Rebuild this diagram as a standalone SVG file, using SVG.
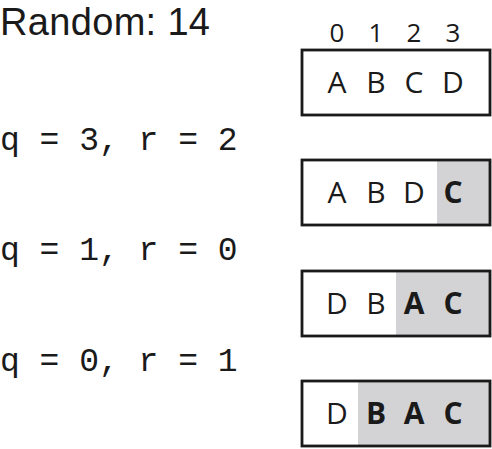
<svg xmlns="http://www.w3.org/2000/svg" width="492" height="449" viewBox="0 0 492 449">
<style>
.lbl{font-family:"Liberation Sans","DejaVu Sans",sans-serif;font-size:38px;fill:#1a1a1a}
.code{font-family:"Liberation Mono","DejaVu Sans Mono",monospace;font-size:33px;fill:#1a1a1a}
.idx{font-family:"Open Sans","Noto Sans",sans-serif;font-size:26px;fill:#1a1a1a;text-anchor:middle}
.cell{font-family:"Open Sans","Noto Sans",sans-serif;font-size:30px;fill:#1a1a1a;text-anchor:middle}
.b{font-weight:bold}
.box{fill:none;stroke:#1a1a1a;stroke-width:2.8}
.hl{fill:#d3d3d5}
</style>
<rect width="492" height="449" fill="#fff"/>
<text class="lbl" x="0" y="35" textLength="210" lengthAdjust="spacing">Random: 14</text>
<text class="code" x="0" y="150">q = 3, r = 2</text>
<text class="code" x="0" y="260">q = 1, r = 0</text>
<text class="code" x="0" y="371">q = 0, r = 1</text>
<g id="indices">
<text class="idx" x="337" y="42">0</text>
<text class="idx" x="376" y="42">1</text>
<text class="idx" x="414" y="42">2</text>
<text class="idx" x="453" y="42">3</text>
</g>
<g id="array0">
<rect class="box" x="302" y="50" width="188" height="65"/>
<text class="cell" x="337" y="93">A</text>
<text class="cell" x="376" y="93">B</text>
<text class="cell" x="414" y="93">C</text>
<text class="cell" x="453" y="93">D</text>
</g>
<g id="array1">
<rect class="hl" x="437" y="160" width="53" height="65"/>
<rect class="box" x="302" y="160" width="188" height="65"/>
<text class="cell" x="337" y="203">A</text>
<text class="cell" x="376" y="203">B</text>
<text class="cell" x="414" y="203">D</text>
<text class="cell b" x="453" y="203">C</text>
</g>
<g id="array2">
<rect class="hl" x="396" y="271" width="94" height="65"/>
<rect class="box" x="302" y="271" width="188" height="65"/>
<text class="cell" x="337" y="314">D</text>
<text class="cell" x="376" y="314">B</text>
<text class="cell b" x="414" y="314">A</text>
<text class="cell b" x="453" y="314">C</text>
</g>
<g id="array3">
<rect class="hl" x="358" y="381" width="132" height="65"/>
<rect class="box" x="302" y="381" width="188" height="65"/>
<text class="cell" x="337" y="424">D</text>
<text class="cell b" x="376" y="424">B</text>
<text class="cell b" x="414" y="424">A</text>
<text class="cell b" x="453" y="424">C</text>
</g>
</svg>
